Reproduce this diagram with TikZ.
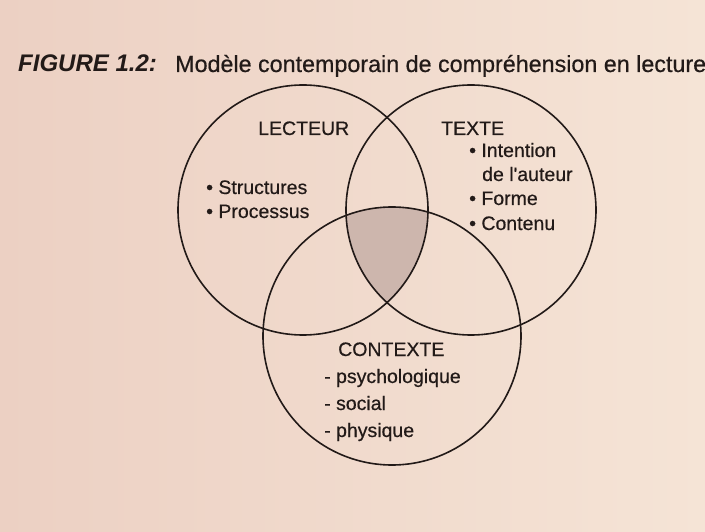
\documentclass[tikz,border=0pt]{standalone}
\usepackage{fontspec}
\setmainfont{Liberation Sans}
\newfontfamily\heavy[FakeBold=0.5]{Liberation Sans}
\definecolor{paper}{HTML}{ECD0C3}
\definecolor{paperlight}{HTML}{F5E4D6}
\definecolor{ink}{HTML}{221A18}
\definecolor{shadecol}{HTML}{CDB6AD}
\tikzset{
  ring/.style={draw=ink, line width=1.6pt},
  lbl/.style={anchor=base west, inner sep=0pt, text=ink, font=\heavy\fontsize{19.5}{23}\selectfont},
  ttl/.style={anchor=base west, inner sep=0pt, text=ink, font=\heavy\fontsize{23.3}{27}\selectfont},
}
\begin{document}
\begin{tikzpicture}[x=1pt,y=-1pt]
\useasboundingbox (0,0) rectangle (705,532);
\shade[left color=paper, right color=paperlight] (0,0) rectangle (705,532);
% circle centres
\coordinate (cL) at (303,210);
\coordinate (cR) at (471,210);
\coordinate (cC) at (392,336);
% shaded common region
\begin{scope}
  \clip (cL) circle [radius=125pt];
  \clip (cR) circle [radius=125pt];
  \fill[shadecol] (cC) circle [radius=129pt];
\end{scope}
\draw[ring] (cL) circle [radius=125pt];
\draw[ring] (cR) circle [radius=125pt];
\draw[ring] (cC) circle [radius=129pt];
% title
\node[ttl, font=\fontsize{24}{27}\selectfont\bfseries\itshape] (fig) at (18,72) {FIGURE 1.2:};
\node[ttl] (title) at (175,72) {Modèle contemporain de compréhension en lecture};
% lecteur
\node[lbl] (lecteur) at (258,135) {LECTEUR};
\node[lbl] (l1) at (206,194) {• Structures};
\node[lbl] (l2) at (206,218) {• Processus};
% texte
\node[lbl] (texte) at (441,135) {TEXTE};
\node[lbl] (t1) at (469,157) {• Intention};
\node[lbl] (t1b) at (482,181) {de l'auteur};
\node[lbl] (t2) at (469,205) {• Forme};
\node[lbl] (t3) at (469,230) {• Contenu};
% contexte
\node[lbl] (contexte) at (338,356) {CONTEXTE};
\node[lbl] (c1) at (324,383) {- psychologique};
\node[lbl] (c2) at (324,410) {- social};
\node[lbl] (c3) at (324,437) {- physique};
\end{tikzpicture}
\end{document}
